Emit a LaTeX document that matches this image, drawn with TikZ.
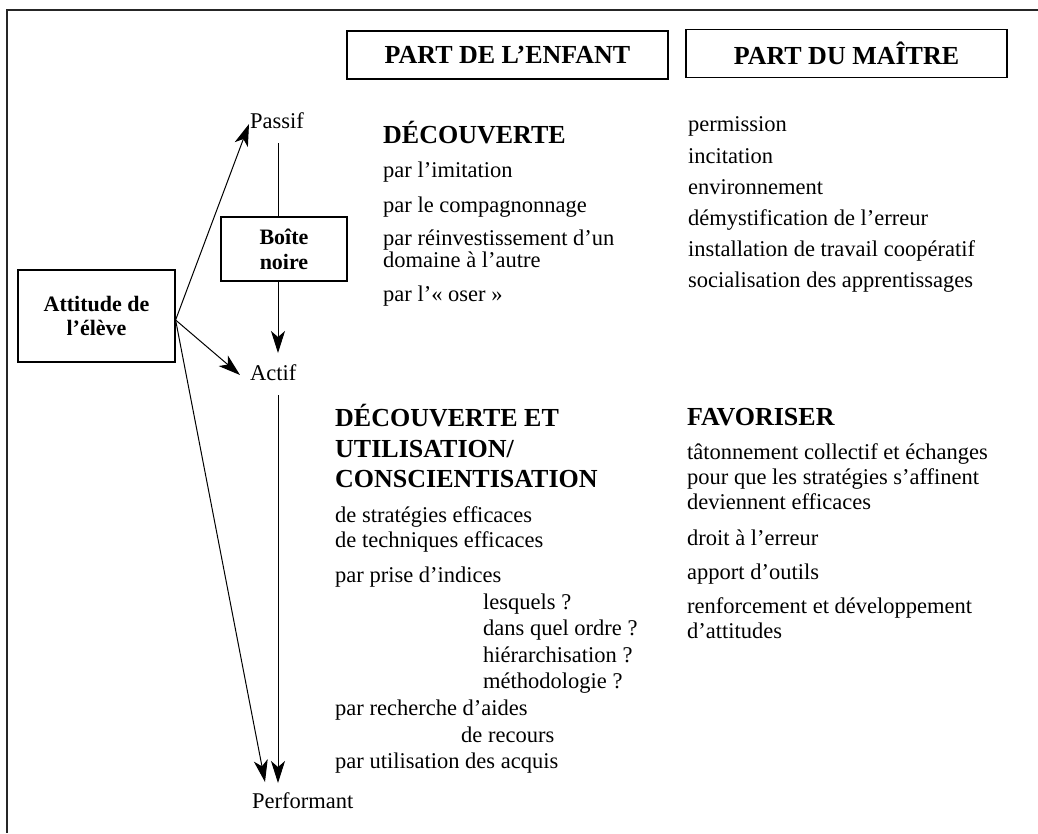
\documentclass[tikz,border=0pt]{standalone}
\usepackage{fontspec}
\setmainfont{Liberation Serif}
\usetikzlibrary{arrows.meta}
\begin{document}
\begin{tikzpicture}[x=1pt,y=-1pt,
  txt/.style={anchor=base west, inner sep=0pt, font=\fontsize{22.5}{24}\selectfont},
  hd/.style={anchor=base west, inner sep=0pt, font=\fontsize{26}{28}\selectfont\bfseries},
  lbl/.style={anchor=base west, inner sep=0pt, font=\fontsize{22.5}{24}\selectfont},
  hbox/.style={draw, line width=1.2pt, inner sep=0pt, minimum width=321pt, minimum height=48pt, font=\fontsize{26}{28}\selectfont\bfseries},
  sbox/.style={draw, line width=1.2pt, inner sep=0pt, align=center, font=\fontsize{22}{25}\selectfont\bfseries},
  conn/.style={line width=1pt},
  arr/.style={line width=1pt, -{Stealth[length=22pt, width=14pt, inset=6pt]}}]
\useasboundingbox (0,0) rectangle (1038,833);
\fill[white] (0,0) rectangle (1038,833);
% frame
\draw[line width=2pt, black!85] (1038,10) -- (7,10) -- (7,833);

% header boxes
\node[hbox] (pe) at (507.5,55) {PART DE L’ENFANT};
\node[hbox] (pm) at (846.5,53.5) {PART DU MAÎTRE};

% left diagram
\node[sbox, minimum width=157pt, minimum height=92pt] (att) at (96.5,316) {Attitude de\\[-1pt]l’élève};
\node[sbox, minimum width=126pt, minimum height=64pt] (boite) at (284,249) {Boîte\\[0pt]noire};
\node[lbl] (passif) at (250,128) {Passif};
\node[lbl] (actif) at (250,380) {Actif};
\node[lbl] (perf) at (252,808) {Performant};
\coordinate (vline) at (278,0);

\draw[conn] ([yshift=-15pt]passif.base -| vline) -- (boite.north -| vline);
\draw[arr] (boite.south -| vline) -- ([yshift=27pt]actif.base -| vline);
\draw[arr] ([yshift=-15pt]actif.base -| vline) -- ([yshift=25pt]perf.base -| vline);

\draw[arr] ([yshift=-4pt]att.east) -- ([shift={(-1pt,4pt)}]passif.base west);
\draw[arr] ([yshift=-4pt]att.east) -- ([shift={(-10pt,5pt)}]actif.base west);
\draw[arr] ([yshift=-4pt]att.east) -- ([shift={(13pt,26pt)}]perf.base west);

% upper left block
\node[hd]  (d1) at (383,143) {DÉCOUVERTE};
\node[txt] (a1) at (383,177) {par l’imitation};
\node[txt] (a2) at (383,212) {par le compagnonnage};
\node[txt] (a3) at (383,245) {par réinvestissement d’un};
\node[txt] (a4) at (383,267) {domaine à l’autre};
\node[txt] (a5) at (383,301) {par l’« oser »};

% upper right block
\node[txt] (b1) at (688,131) {permission};
\node[txt] (b2) at (688,163) {incitation};
\node[txt] (b3) at (688,194) {environnement};
\node[txt] (b4) at (688,225) {démystification de l’erreur};
\node[txt] (b5) at (688,256) {installation de travail coopératif};
\node[txt] (b6) at (688,287) {socialisation des apprentissages};

% lower left block
\node[hd]  (d2) at (335,426) {DÉCOUVERTE ET};
\node[hd]  (d3) at (335,457) {UTILISATION/};
\node[hd]  (d4) at (335,487) {CONSCIENTISATION};
\node[txt] (c1) at (335,522) {de stratégies efficaces};
\node[txt] (c2) at (335,547) {de techniques efficaces};
\node[txt] (c3) at (335,582) {par prise d’indices};
\node[txt] (c4) at (483,609) {lesquels ?};
\node[txt] (c5) at (483,635) {dans quel ordre ?};
\node[txt] (c6) at (483,662) {hiérarchisation ?};
\node[txt] (c7) at (483,688) {méthodologie ?};
\node[txt] (c8) at (335,715) {par recherche d’aides};
\node[txt] (c9) at (461,742) {de recours};
\node[txt] (c10) at (335,768) {par utilisation des acquis};

% lower right block
\node[hd]  (f0) at (687,425) {FAVORISER};
\node[txt] (f1) at (687,459) {tâtonnement collectif et échanges};
\node[txt] (f2) at (687,484) {pour que les stratégies s’affinent};
\node[txt] (f3) at (687,509) {deviennent efficaces};
\node[txt] (f4) at (687,545) {droit à l’erreur};
\node[txt] (f5) at (687,579) {apport d’outils};
\node[txt] (f6) at (687,613) {renforcement et développement};
\node[txt] (f7) at (687,638) {d’attitudes};
\end{tikzpicture}
\end{document}
